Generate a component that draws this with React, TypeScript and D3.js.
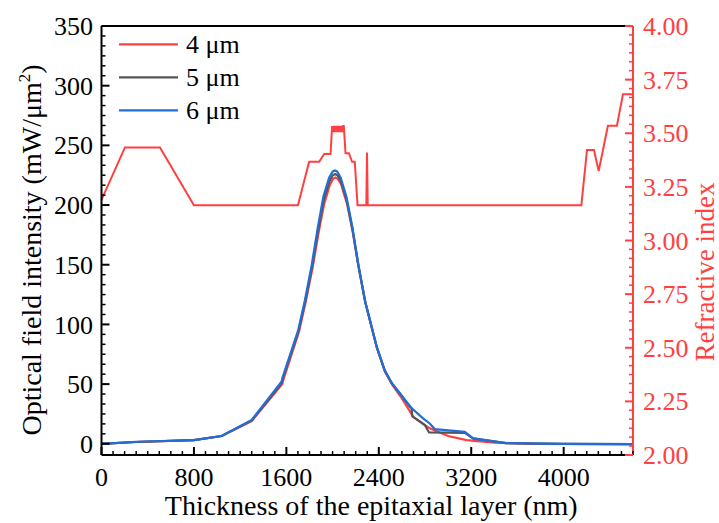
import React from "react";
import * as d3 from "d3";

// ---------- data ----------
const xTicksMajor = [0, 800, 1600, 2400, 3200, 4000];
const yLeftTicks = [0, 50, 100, 150, 200, 250, 300, 350];
const yRightTicks = [2.0, 2.25, 2.5, 2.75, 3.0, 3.25, 3.5, 3.75, 4.0];

const seriesNames = ["4 μm", "5 μm", "6 μm"];

const red4X = [0, 300, 800, 1040, 1300, 1565, 1575, 1710, 1770, 1828, 1877, 1927, 1977, 2005, 2025, 2045, 2075, 2125, 2175, 2225, 2285, 2385, 2455, 2520, 2600, 2697, 2841, 3000, 3159, 3400, 3706, 4600];
const red4Y = [0, 1.5, 3, 6.5, 19, 50, 54, 94, 120, 148, 176, 201, 217, 222, 223, 222, 217, 201, 177, 148, 118, 80, 60, 49, 38, 22.6, 12.9, 6.5, 3.1, 1, 0, -0.3];

const gray5X = [0, 300, 800, 1040, 1300, 1560, 1570, 1705, 1765, 1824, 1873, 1923, 1973, 2002, 2022, 2042, 2072, 2122, 2172, 2222, 2282, 2382, 2452, 2510, 2600, 2668, 2683, 2691, 2798, 2835, 3144, 3216, 3500, 4000, 4600];
const gray5Y = [0, 1.5, 3, 6.5, 19.5, 51, 55, 94.5, 120, 149, 178, 204, 220, 225, 226, 225, 220, 204, 180, 150, 119, 81, 61, 51, 40, 31, 29.5, 23, 15.7, 9.5, 9.2, 4.5, 0.5, 0, -0.3];

const blue6X = [0, 300, 800, 1040, 1300, 1558, 1567, 1702, 1760, 1820, 1870, 1920, 1970, 2000, 2020, 2040, 2070, 2120, 2170, 2220, 2280, 2380, 2450, 2500, 2520, 2600, 2683, 2783, 2841, 2884, 3144, 3216, 3500, 4000, 4600];
const blue6Y = [0, 1.7, 3, 6.5, 20, 52, 55.5, 95, 120, 150, 180, 207, 223, 228, 229, 228, 223, 207, 182, 152, 120, 82, 62, 53, 50, 40, 30, 21.3, 17, 12.3, 10, 4.5, 0.5, 0, -0.3];

const riX = [0, 203, 506, 800, 1700, 1797, 1884, 1927, 1982, 1996, 2004, 2012, 2020, 2028, 2036, 2044, 2052, 2060, 2068, 2076, 2084, 2092, 2097, 2112, 2141, 2169, 2192, 2216, 2292, 2298, 2304, 4153, 4202, 4262, 4303, 4383, 4461, 4513, 4600];
const riN = [3.189, 3.434, 3.434, 3.164, 3.164, 3.367, 3.367, 3.403, 3.403, 3.534, 3.505, 3.534, 3.505, 3.534, 3.505, 3.534, 3.505, 3.534, 3.505, 3.534, 3.505, 3.534, 3.534, 3.407, 3.407, 3.367, 3.367, 3.164, 3.164, 3.41, 3.164, 3.164, 3.422, 3.422, 3.324, 3.535, 3.535, 3.682, 3.682];

const RED = "#ff4040";
const GRAY = "#555555";
const BLUE = "#1f6fd8";
const FONT = "'Liberation Serif', 'Times New Roman', serif";

export default function App() {
  const W = 719, H = 523;
  const left = 101.5, right = 633, top = 26, bottom = 455;

  const x = d3.scaleLinear().domain([0, 4600]).range([left, right]);
  const yL = d3.scaleLinear().domain([-9.4, 350]).range([bottom, top]);
  const yR = d3.scaleLinear().domain([2, 4]).range([bottom, top]);

  const lineL = d3.line<[number, number]>().x(d => x(d[0])).y(d => yL(d[1]));
  const lineR = d3.line<[number, number]>().x(d => x(d[0])).y(d => yR(d[1]));

  const zip = (a: number[], b: number[]) => a.map((v, i) => [v, b[i]] as [number, number]);

  const series = [
    { name: seriesNames[0], color: RED, d: zip(red4X, red4Y) },
    { name: seriesNames[1], color: GRAY, d: zip(gray5X, gray5Y) },
    { name: seriesNames[2], color: BLUE, d: zip(blue6X, blue6Y) },
  ];

  const xMinor = d3.range(0, 4601, 100).filter(v => v % 800 !== 0);
  const yLMinor: number[] = [];
  for (let i = 0; i < yLeftTicks.length - 1; i++) {
    for (let k = 1; k < 6; k++) yLMinor.push(yLeftTicks[i] + (k * 50) / 6);
  }
  const yRMinor: number[] = [];
  for (let i = 0; i < yRightTicks.length - 1; i++) {
    for (let k = 1; k < 6; k++) yRMinor.push(yRightTicks[i] + (k * 0.25) / 6);
  }

  return (
    <svg width={W} height={H} style={{ position: "absolute", left: 0, top: 0, background: "#fff" }} fontFamily={FONT}>
      <rect x={0} y={0} width={W} height={H} fill="#fff" />
      {/* refractive index */}
      <path d={lineR(zip(riX, riN)) || ""} fill="none" stroke={RED} strokeWidth={2} strokeLinejoin="miter" />
      {/* intensity curves */}
      {series.map(s => (
        <path key={s.name} d={lineL(s.d) || ""} fill="none" stroke={s.color} strokeWidth={2.2} />
      ))}

      {/* frame */}
      <line x1={left} x2={right} y1={top} y2={top} stroke="#000" strokeWidth={2} />
      <line x1={left} x2={right} y1={bottom} y2={bottom} stroke="#000" strokeWidth={2} />
      <line x1={left} x2={left} y1={top} y2={bottom} stroke="#000" strokeWidth={2} />
      <line x1={right} x2={right} y1={top} y2={bottom} stroke={RED} strokeWidth={2} />

      {/* bottom ticks */}
      {xTicksMajor.map(v => (
        <g key={"xm" + v}>
          <line x1={x(v)} x2={x(v)} y1={bottom} y2={bottom - 8} stroke="#000" strokeWidth={2} />
          <text x={x(v)} y={486} textAnchor="middle" fontSize={26} fill="#000">{v}</text>
        </g>
      ))}
      {xMinor.map(v => (
        <line key={"xn" + v} x1={x(v)} x2={x(v)} y1={bottom} y2={bottom - 4} stroke="#000" strokeWidth={1.5} />
      ))}

      {/* left ticks */}
      {yLeftTicks.map(v => (
        <g key={"yl" + v}>
          <line x1={left} x2={left + 8} y1={yL(v)} y2={yL(v)} stroke="#000" strokeWidth={2} />
          <text x={93} y={yL(v)} dy="0.35em" textAnchor="end" fontSize={26} fill="#000">{v}</text>
        </g>
      ))}
      {yLMinor.map(v => (
        <line key={"yln" + v} x1={left} x2={left + 4} y1={yL(v)} y2={yL(v)} stroke="#000" strokeWidth={1.5} />
      ))}

      {/* right ticks */}
      {yRightTicks.map(v => (
        <g key={"yr" + v}>
          <line x1={right} x2={right - 8} y1={yR(v)} y2={yR(v)} stroke={RED} strokeWidth={2} />
          <text x={643} y={yR(v)} dy="0.35em" textAnchor="start" fontSize={26} fill={RED}>{v.toFixed(2)}</text>
        </g>
      ))}
      {yRMinor.map(v => (
        <line key={"yrn" + v} x1={right} x2={right - 4} y1={yR(v)} y2={yR(v)} stroke={RED} strokeWidth={1.5} />
      ))}

      {/* axis titles */}
      <text x={(left + right) / 2 + 4} y={515} textAnchor="middle" fontSize={28} fill="#000">
        Thickness of the epitaxial layer (nm)
      </text>
      <text transform={`translate(41,250) rotate(-90)`} textAnchor="middle" fontSize={28} fill="#000">
        Optical field intensity (mW/μm<tspan dy="-11" fontSize={17}>2</tspan><tspan dy="11">)</tspan>
      </text>
      <text transform={`translate(714,272) rotate(-90)`} textAnchor="middle" fontSize={27} fill={RED}>
        Refractive index
      </text>

      {/* legend */}
      {series.map((s, i) => (
        <g key={"lg" + s.name}>
          <line x1={119} x2={178} y1={44.3 + i * 33} y2={44.3 + i * 33} stroke={s.color} strokeWidth={2.2} />
          <text x={186} y={44.3 + i * 33} dy="0.35em" fontSize={26} fill="#000">{s.name}</text>
        </g>
      ))}
    </svg>
  );
}
